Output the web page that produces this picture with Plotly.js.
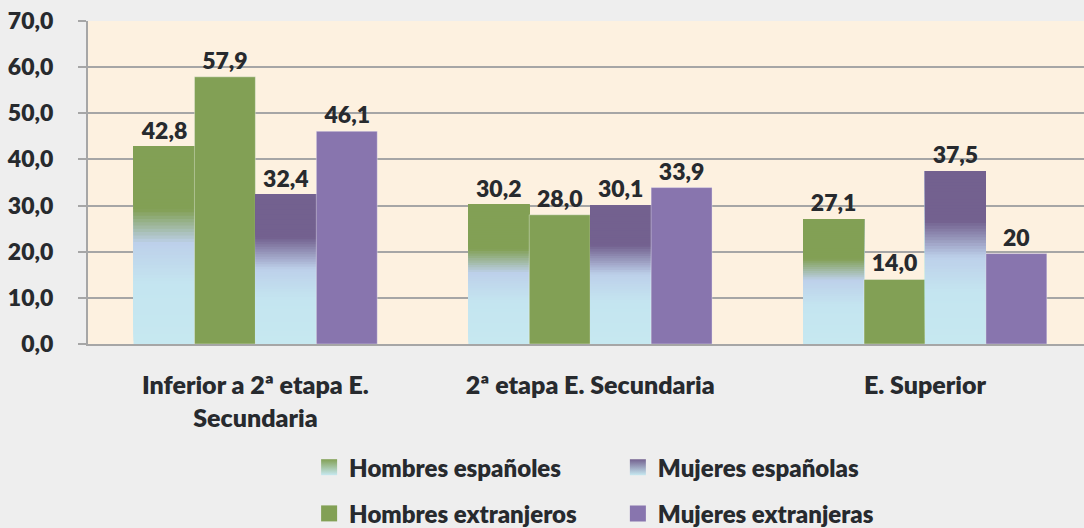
<!DOCTYPE html>
<html>
<head>
<meta charset="utf-8">
<script src="https://cdn.plot.ly/plotly-3.0.1.min.js"></script>
<style>html,body{margin:0;padding:0;background:#eeeeee;}#chart{width:1084px;height:528px;}</style>
</head>
<body>
<div id="chart"></div>
<script>
// ---- Data ----
const categories = ["Inferior a 2ª etapa E.<br>Secundaria", "2ª etapa E. Secundaria", "E. Superior"];
const seriesNames = ["Hombres españoles", "Hombres extranjeros", "Mujeres españolas", "Mujeres extranjeras"];
const hombresEspanoles = [42.8, 30.2, 27.1];
const hombresExtranjeros = [57.9, 28.0, 14.0];
const mujeresEspanolas = [32.4, 30.1, 37.5];
const mujeresExtranjeras = [46.1, 33.9, 19.6];
const labelsHombresEsp = ["42,8", "30,2", "27,1"];
const labelsHombresExt = ["57,9", "28,0", "14,0"];
const labelsMujeresEsp = ["32,4", "30,1", "37,5"];
const labelsMujeresExt = ["46,1", "33,9", "20"];
const yTicks = [0, 10, 20, 30, 40, 50, 60, 70];

// ---- Styles ----
const GREEN = "#82a055";
const PURPLE_DARK = "#73618f";
const PURPLE = "#8875ae";
const LIGHT = "#c6e8f0";
const TEXT = "#272a2e";
const FONT = "Lato, 'Open Sans', sans-serif";
const WEIGHT = 800;
const greenStops = [[0, LIGHT], [0.30, "#c4e5f0"], [0.51, "#bdd0ea"], [0.68, GREEN], [1, GREEN]];
const purpleStops = [[0, LIGHT], [0.30, "#c4e5f0"], [0.50, "#bdd0ea"], [0.71, PURPLE_DARK], [1, PURPLE_DARK]];

function hex2rgb(h){return [parseInt(h.substr(1,2),16),parseInt(h.substr(3,2),16),parseInt(h.substr(5,2),16)];}
function colorAt(stops, f){
  for(let i=0;i<stops.length-1;i++){
    const [a,ca]=stops[i],[b,cb]=stops[i+1];
    if(f>=a && f<=b){
      const t=(b===a)?0:(f-a)/(b-a);
      const A=hex2rgb(ca),B=hex2rgb(cb);
      return "rgb("+A.map((v,j)=>Math.round(v+(B[j]-v)*t)).join(",")+")";
    }
  }
  return stops[stops.length-1][1];
}

const N = 60;
const traces = [];
const labelFont = {family:FONT, size:23, color:TEXT, weight:WEIGHT};
function gradientSeries(values, labels, stops, group){
  traces.push({type:"bar", x:categories, y:values, offsetgroup:group, showlegend:false,
    marker:{color:"rgba(0,0,0,0)", line:{width:0}}, text:labels, textposition:"outside",
    constraintext:"none", cliponaxis:false, hoverinfo:"skip", textfont:labelFont});
  for(let k=0;k<N;k++){
    traces.push({type:"bar", x:categories,
      base: values.map(v=>v*k/N),
      y: values.map(v=>v*(1-k/N)),
      offsetgroup:group, showlegend:false, hoverinfo:"skip",
      marker:{color:colorAt(stops,(k+0.5)/N), line:{width:0}}});
  }
}
function solidSeries(values, labels, color, group){
  traces.push({type:"bar", x:categories, y:values, offsetgroup:group, showlegend:false,
    marker:{color:color, line:{width:1, color:"rgba(255,255,255,0.35)"}}, text:labels, textposition:"outside",
    constraintext:"none", cliponaxis:false, textfont:labelFont});
}
gradientSeries(hombresEspanoles, labelsHombresEsp, greenStops, "a");
solidSeries(hombresExtranjeros, labelsHombresExt, GREEN, "b");
gradientSeries(mujeresEspanolas, labelsMujeresEsp, purpleStops, "c");
solidSeries(mujeresExtranjeras, labelsMujeresExt, PURPLE, "d");

// legend entries (marker colour = top, gradient colour = bottom)
function legendEntry(name, color, grad, legend, grp){
  const m = {symbol:"square", size:16, color:color, line:{width:0}};
  if(grad) m.gradient = {type:"vertical", color:grad};
  traces.push({type:"scatter", mode:"markers", x:[null], y:[null], name:name, legend:legend,
    legendgroup:grp, marker:m, hoverinfo:"skip"});
}
legendEntry(seriesNames[0], GREEN, LIGHT, "legend", "g1");
legendEntry(seriesNames[1], GREEN, null, "legend", "g2");
legendEntry(seriesNames[2], PURPLE_DARK, LIGHT, "legend2", "g3");
legendEntry(seriesNames[3], PURPLE, null, "legend2", "g4");

const legendFont = {family:FONT, size:24, color:TEXT, weight:WEIGHT};
const layout = {
  width:1084, height:528,
  paper_bgcolor:"#eeeeee", plot_bgcolor:"#fdf1e0",
  margin:{l:88, r:0, t:21, b:184, autoexpand:false},
  separators:",.",
  barmode:"group", bargap:0.272, bargroupgap:0,
  showlegend:true,
  xaxis:{type:"category", range:[-0.5, 2.475], showgrid:false, ticks:"", showline:true,
    linecolor:"#a6a6a6", linewidth:2, ticklabelstandoff:18, automargin:false,
    tickfont:{family:FONT, size:25, color:TEXT, weight:WEIGHT}, fixedrange:true},
  yaxis:{range:[0,70], tickvals:yTicks, tickformat:".1f", showgrid:true, gridcolor:"#a6a6a6", gridwidth:2,
    zeroline:false, showline:true, linecolor:"#a6a6a6", linewidth:2, ticks:"outside", ticklen:8,
    tickcolor:"#a6a6a6", tickwidth:2, ticklabelstandoff:20, automargin:false,
    tickfont:{family:FONT, size:23, color:TEXT, weight:WEIGHT}, fixedrange:true},
  legend:{x:0.222, y:-0.313, xanchor:"left", yanchor:"top",
    bgcolor:"rgba(0,0,0,0)", font:legendFont, tracegroupgap:12, itemsizing:"trace"},
  legend2:{x:0.532, y:-0.313, xanchor:"left", yanchor:"top",
    bgcolor:"rgba(0,0,0,0)", font:legendFont, tracegroupgap:12, itemsizing:"trace"}
};
Plotly.newPlot("chart", traces, layout, {displayModeBar:false, staticPlot:true});
</script>
</body>
</html>
